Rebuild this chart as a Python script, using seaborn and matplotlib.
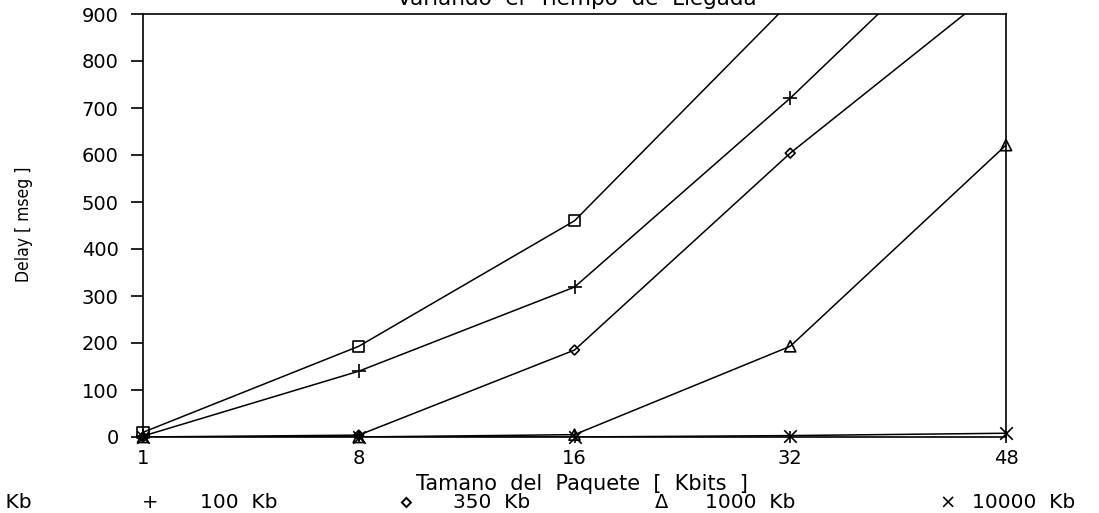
import matplotlib
matplotlib.use("Agg")
import matplotlib.pyplot as plt
import seaborn as sns
import pandas as pd

# ---- data ----
packet_sizes = ["1", "8", "16", "32", "48"]
series_names = ["20 Kb", "100 Kb", "350 Kb", "1000 Kb", "10000 Kb"]
delay_20 = [10, 193, 460, 925, 1400]
delay_100 = [2, 140, 319, 721, 1160]
delay_350 = [0, 4, 185, 604, 970]
delay_1000 = [0, 0, 5, 193, 621]
delay_10000 = [0, 0, 0, 3, 8]
y_ticks = [0, 100, 200, 300, 400, 500, 600, 700, 800, 900]

all_series = [delay_20, delay_100, delay_350, delay_1000, delay_10000]
markers = ["s", "+", "D", "^", "x"]
msizes = [8, 10, 5, 8, 9]

rows = []
for name, vals in zip(series_names, all_series):
    for i, (lab, v) in enumerate(zip(packet_sizes, vals)):
        rows.append({"series": name, "pos": i, "size": lab, "delay": v})
df = pd.DataFrame(rows)

sns.set_theme(style="ticks")
plt.rcParams["font.family"] = ["DejaVu Sans"]

W, H = 1099, 513
fig = plt.figure(figsize=(W / 100, H / 100), dpi=100)
ax = fig.add_axes([143 / W, 1 - 437 / H, (1006 - 143) / W, (437 - 14) / H])

for name, mk, ms in zip(series_names, markers, msizes):
    sub = df[df["series"] == name]
    sns.lineplot(data=sub, x="pos", y="delay", ax=ax, color="black",
                 linewidth=1.1, legend=False)
    vis = sub[sub["delay"] <= 900]
    filled = mk in ("+", "x")
    sns.scatterplot(data=vis, x="pos", y="delay", ax=ax, marker=mk, s=ms ** 2,
                    color="black" if filled else "none",
                    edgecolor="black", linewidth=1.2, clip_on=False,
                    legend=False, zorder=5)

ax.set_xlim(0, len(packet_sizes) - 1)
ax.set_ylim(0, 900)
ax.set_xticks(range(len(packet_sizes)))
ax.set_xticklabels(packet_sizes)
ax.set_yticks(y_ticks)
ax.set_yticklabels([str(t) for t in y_ticks])
ax.tick_params(axis="both", labelsize=14, colors="black", width=1.2)
ax.tick_params(axis="y", length=8.5, direction="out", pad=9)
ax.tick_params(axis="x", length=8, direction="inout", pad=5)
for sp in ax.spines.values():
    sp.set_color("black")
    sp.set_linewidth(1.2)
ax.set_xlabel("")
ax.set_ylabel("")

# y label
fig.text(24 / W, 1 - 224 / H, "Delay [ mseg ]", rotation=90,
         ha="center", va="center", fontsize=12.5, stretch="condensed",
         color="black")
# x label
fig.text(582 / W, 1 - 484 / H, "Tamano  del  Paquete  [  Kbits  ]",
         ha="center", va="center", fontsize=15, color="black")
# title (cut at the top edge)
fig.text(577 / W, 1 - 5 / H, "Variando  el  Tiempo  de  Llegada",
         ha="center", va="baseline", fontsize=15.5, color="black")

# legend row along the bottom (clipped at both sides)
leg_y = 1 - 503 / H
legend_syms = ["\u25a1", "+", "\u22c4", "\u0394", "\u00d7"]
sym_x = [-90, 150, 406, 662, 948]
lab_x = [-33, 200, 453, 705, 972]
for sym, sx, lab, lx in zip(legend_syms, sym_x, series_names, lab_x):
    fig.text(sx / W, leg_y, sym, ha="center", va="center",
             fontsize=17 if sym == "\u22c4" else 14, color="black")
    fig.text(lx / W, leg_y, lab.replace(" ", "  "), ha="left", va="center",
             fontsize=14.5, color="black")

fig.savefig("out.png", dpi=100, facecolor="white")
